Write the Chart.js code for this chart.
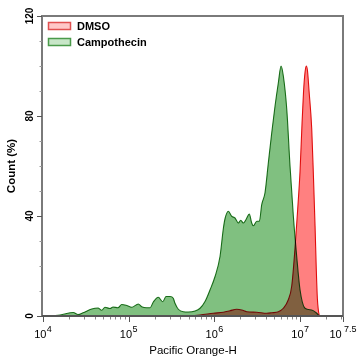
<!DOCTYPE html>
<html><head><meta charset="utf-8">
<script src="https://cdn.jsdelivr.net/npm/chart.js@4/dist/chart.umd.min.js"></script>
<style>html,body{margin:0;padding:0;background:#fff}#wrap{width:358px;height:360px}</style>
</head><body><div id="wrap"><canvas id="c" width="358" height="360"></canvas></div>
<script>
// ---- data (x given as log10 of Pacific Orange-H intensity) ----
const seriesNames = ['DMSO', 'Campothecin'];

const campoExp = [4.000,4.198,4.354,4.408,4.467,4.568,4.642,4.685,4.723,4.782,4.817,4.875,4.918,4.977,5.035,5.112,5.152,5.210,5.249,5.287,5.345,5.397,5.435,5.482,5.520,5.540,5.579,5.637,5.695,5.774,5.832,5.890,5.948,6.007,6.065,6.104,6.124,6.162,6.202,6.240,6.279,6.307,6.337,6.369,6.407,6.435,6.454,6.494,6.524,6.552,6.590,6.629,6.669,6.707,6.746,6.777,6.804,6.844,6.882,6.921,6.960,6.999,7.057,7.135,7.194,7.224];
const campoCount = [0,0.4,1.4,0.6,1.3,2.8,3.2,2.3,3.5,3.0,3.6,3.3,4.6,4.2,3.5,4.8,3.7,3.3,3.3,5.6,7.5,5.7,7.8,7.8,7.1,5.1,2.7,1.7,1.6,2.0,3.1,5.8,10.4,15.8,23.8,35.0,39.0,41.9,39.9,39.2,37.2,38.3,37.2,38.6,40.8,37.2,36.1,37.9,37.9,44.6,49.3,61.3,73.4,84.0,93.4,100,96.0,82.7,60.0,39.9,23.8,10.4,3.1,2.4,1.1,0];

const dmsoExp = [4.000,5.500,5.715,5.832,5.987,6.104,6.182,6.260,6.319,6.377,6.494,6.610,6.669,6.746,6.804,6.862,6.902,6.940,6.970,6.999,7.022,7.040,7.057,7.071,7.086,7.104,7.135,7.156,7.174,7.189,7.201,7.212,7.224];
const dmsoCount = [0,0,0.1,0.4,1.1,1.5,2.1,2.7,2.4,1.7,1.5,1.1,1.3,1.7,3.1,6.5,12,27,42,58,77,90,97.5,100,98,90,75,55,36,18,7,2.5,0];

const xMajorExp = [4, 5, 6, 7, 7.5];
const xMajorBase = ['10', '10', '10', '10', '10'];
const xMajorPow = ['4', '5', '6', '7', '7.5'];
const yTicks = [0, 40, 80, 120];
const yTickLabels = ['0', '40', '80', '120'];
const yMinorTicks = [10, 20, 30, 50, 60, 70, 90, 100, 110];
const xTitle = 'Pacific Orange-H';
const yTitle = 'Count (%)';

const FONT = '"Liberation Sans", Arial, sans-serif';

const toPts = (ex, ys) => ex.map((e, i) => ({x: Math.pow(10, e), y: ys[i]}));

const legendFills = ['rgb(255,200,200)', 'rgb(200,230,200)'];
const legendStrokes = ['#e05050', '#4a9a4a'];

const decor = {
  id: 'decor',
  beforeDatasetsDraw(chart) {
    chart.ctx.save();
    chart.ctx.globalCompositeOperation = 'multiply';
  },
  afterDatasetsDraw(chart) {
    const ctx = chart.ctx;
    ctx.restore();
    const a = chart.chartArea;
    const xs = chart.scales.x, ys = chart.scales.y;
    ctx.save();
    // frame
    ctx.strokeStyle = '#7a7a7a';
    ctx.lineWidth = 2;
    ctx.strokeRect(a.left - 1, a.top, a.right - a.left + 1, a.bottom - a.top);
    ctx.strokeStyle = '#555';
    ctx.beginPath();
    ctx.moveTo(a.left - 1, a.bottom); ctx.lineTo(a.right, a.bottom);
    ctx.stroke();
    // y ticks
    ctx.lineWidth = 1;
    ctx.strokeStyle = '#555';
    yTicks.forEach(v => {
      const y = Math.round(ys.getPixelForValue(v)) + 0.5;
      ctx.beginPath(); ctx.moveTo(a.left - 6, y); ctx.lineTo(a.left - 1, y); ctx.stroke();
    });
    ctx.strokeStyle = '#999';
    yMinorTicks.forEach(v => {
      const y = Math.round(ys.getPixelForValue(v)) + 0.5;
      ctx.beginPath(); ctx.moveTo(a.left - 3.5, y); ctx.lineTo(a.left - 1, y); ctx.stroke();
    });
    // x ticks
    ctx.strokeStyle = '#555';
    xMajorExp.forEach(e => {
      const x = Math.round(xs.getPixelForValue(Math.pow(10, e))) + 0.5;
      ctx.beginPath(); ctx.moveTo(x, a.bottom + 1); ctx.lineTo(x, a.bottom + 6); ctx.stroke();
    });
    ctx.strokeStyle = '#888';
    [4, 5, 6, 7].forEach(d => {
      for (let k = 2; k <= 9; k++) {
        const v = k * Math.pow(10, d);
        if (v > xs.max) break;
        const x = Math.round(xs.getPixelForValue(v)) + 0.5;
        ctx.beginPath(); ctx.moveTo(x, a.bottom + 1); ctx.lineTo(x, a.bottom + 3.5); ctx.stroke();
      }
    });
    // y tick labels (rotated, bold)
    ctx.fillStyle = '#000';
    ctx.font = 'bold 10px ' + FONT;
    ctx.textAlign = 'center';
    ctx.textBaseline = 'middle';
    yTicks.forEach((v, i) => {
      const y = ys.getPixelForValue(v);
      ctx.save();
      ctx.translate(30, y);
      ctx.rotate(-Math.PI / 2);
      ctx.fillText(yTickLabels[i], 0, 0);
      ctx.restore();
    });
    // x tick labels 10^n
    ctx.textAlign = 'left';
    ctx.textBaseline = 'alphabetic';
    xMajorExp.forEach((e, i) => {
      const x = xs.getPixelForValue(Math.pow(10, e));
      ctx.font = '11px ' + FONT;
      const wb = ctx.measureText(xMajorBase[i]).width;
      ctx.font = '9px ' + FONT;
      const wp = ctx.measureText(xMajorPow[i]).width;
      const gap = xMajorPow[i].length > 1 ? 2.5 : 0.5;
      const x0 = x - (wb + gap + wp) / 2;
      ctx.font = '11px ' + FONT;
      ctx.fillText(xMajorBase[i], x0, 337.5);
      ctx.font = '9px ' + FONT;
      ctx.fillText(xMajorPow[i], x0 + wb + gap, 332);
    });
    // legend (inside plot, top-left)
    ctx.font = 'bold 11px ' + FONT;
    ctx.textBaseline = 'middle';
    ctx.textAlign = 'left';
    chart.data.datasets.forEach((d, i) => {
      const bx = a.left + 5.5, by = a.top + 6.5 + i * 16;
      ctx.fillStyle = legendFills[i];
      ctx.fillRect(bx, by, 22, 7);
      ctx.strokeStyle = legendStrokes[i];
      ctx.lineWidth = 1.5;
      ctx.strokeRect(bx, by, 22, 7);
      ctx.fillStyle = '#000';
      ctx.fillText(d.label, a.left + 34, by + 4);
    });
    ctx.restore();
  }
};

new Chart(document.getElementById('c'), {
  type: 'line',
  data: {
    datasets: [
      {
        label: seriesNames[0],
        data: toPts(dmsoExp, dmsoCount),
        borderColor: '#e01010',
        backgroundColor: 'rgb(255,128,128)',
        borderWidth: 1.1,
        fill: 'origin',
        pointRadius: 0,
        cubicInterpolationMode: 'monotone'
      },
      {
        label: seriesNames[1],
        data: toPts(campoExp, campoCount),
        borderColor: '#1f7a1f',
        backgroundColor: 'rgb(128,192,128)',
        borderWidth: 1.1,
        fill: 'origin',
        pointRadius: 0,
        cubicInterpolationMode: 'monotone'
      }
    ]
  },
  options: {
    responsive: false,
    devicePixelRatio: 1,
    animation: false,
    layout: {padding: {top: 16, right: 15, left: 0, bottom: 0}},
    scales: {
      x: {
        type: 'logarithmic',
        min: 1e4,
        max: Math.pow(10, 7.5),
        grid: {display: false, drawTicks: false},
        border: {display: false},
        ticks: {display: false},
        title: {display: true, text: xTitle, color: '#000',
          font: {family: FONT, size: 11.5}, padding: {top: 0, bottom: 2.5}},
        afterFit(s) { s.height = 44; }
      },
      y: {
        min: 0,
        max: 120,
        grid: {display: false, drawTicks: false},
        border: {display: false},
        ticks: {display: false},
        title: {display: true, text: yTitle, color: '#000',
          font: {family: FONT, size: 11.5, weight: 'bold'}, padding: {top: 5, bottom: 0}},
        afterFit(s) { s.width = 43; }
      }
    },
    plugins: {
      tooltip: {enabled: false},
      legend: {display: false}
    }
  },
  plugins: [decor]
});
</script>
</body></html>
